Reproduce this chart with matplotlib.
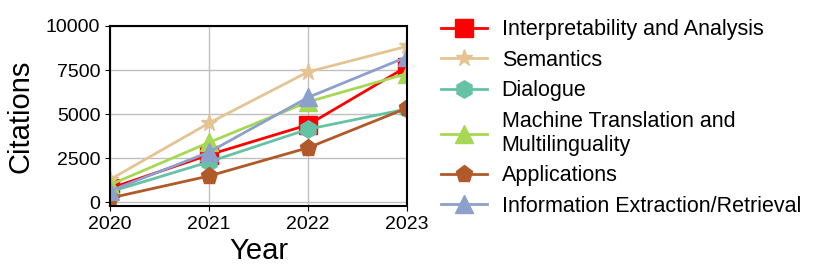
import matplotlib
matplotlib.use("Agg")
import matplotlib.pyplot as plt

plt.rcParams['font.family'] = ['Liberation Sans', 'DejaVu Sans']

years = [2020, 2021, 2022, 2023]
interp = [800, 2700, 4400, 7700]
semantics = [1300, 4500, 7400, 8850]
dialogue = [600, 2300, 4150, 5300]
mt = [1000, 3400, 5700, 7300]
applications = [250, 1500, 3100, 5350]
ie = [650, 2850, 5950, 8250]

series = [
    ("Interpretability and Analysis", interp, "#ff0000", "s"),
    ("Semantics", semantics, "#e5c494", "*"),
    ("Dialogue", dialogue, "#66c2a5", "h"),
    ("Machine Translation and\nMultilinguality", mt, "#a6d854", "^"),
    ("Applications", applications, "#b15928", "p"),
    ("Information Extraction/Retrieval", ie, "#8da0cb", "^"),
]

fig = plt.figure(figsize=(8.3, 2.78), dpi=100)
ax = fig.add_axes([110/830, 1-206/278, 297/830, 180/278])

for name, vals, col, mk in series:
    ax.plot(years, vals, color=col, marker=mk, markersize=12.5, linewidth=2, label=name)

ax.set_xlim(2020, 2023)
ax.set_ylim(-200, 10000)
ax.set_xticks(years)
ax.set_yticks([0, 2500, 5000, 7500, 10000])
ax.tick_params(labelsize=14)
ax.grid(True, color="#c0c0c0", linewidth=1)
ax.set_axisbelow(True)
for s in ax.spines.values():
    s.set_linewidth(1.5)
ax.set_xlabel("Year", fontsize=21, labelpad=3)
ax.set_ylabel("Citations", fontsize=21, labelpad=8)

ax.legend(loc="upper left", bbox_to_anchor=(1.087, 1.085), frameon=False, fontsize=15.5,
          handlelength=2.1, handletextpad=0.7, labelspacing=0.44, borderaxespad=0)

fig.savefig("out.png", dpi=100)
